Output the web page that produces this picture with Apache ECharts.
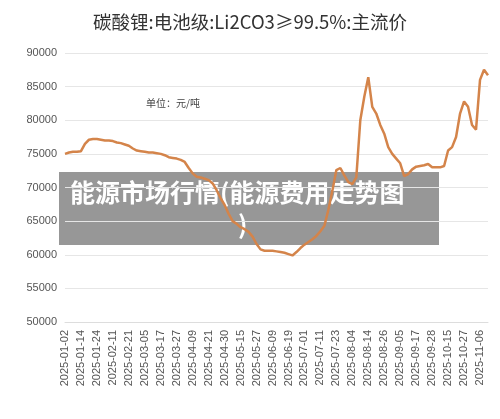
<!DOCTYPE html><html><head><meta charset="utf-8">
<script src="https://cdn.jsdelivr.net/npm/echarts@6/dist/echarts.min.js"></script>
<style>body{margin:0;background:#fff}#c{width:500px;height:419px}</style></head><body><div id="c"></div>
<script>
const tickLabels=["2025-01-02","2025-01-14","2025-01-24","2025-02-11","2025-02-21","2025-03-05","2025-03-17","2025-03-27","2025-04-09","2025-04-21","2025-04-30","2025-05-15","2025-05-27","2025-06-09","2025-06-19","2025-07-01","2025-07-11","2025-07-23","2025-08-04","2025-08-14","2025-08-26","2025-09-05","2025-09-17","2025-09-28","2025-10-15","2025-10-27","2025-11-06"];
const prices=[75000,75200,75300,75300,75400,76500,77100,77200,77200,77100,77000,77000,76900,76700,76600,76400,76200,75800,75500,75400,75300,75200,75200,75100,75000,74800,74500,74400,74300,74100,73800,72900,72100,71600,71500,71300,71100,70600,69600,68400,67400,66100,65000,64600,64100,63800,63400,62700,61600,60800,60600,60600,60600,60500,60400,60300,60100,59900,60400,61000,61500,61900,62300,62800,63500,64300,66700,69500,72600,72900,71800,70800,70500,71500,80000,83500,86400,82000,81000,79300,78000,76000,75000,74300,73600,71700,72000,72700,73100,73200,73300,73500,73000,73000,73000,73200,75500,76000,77500,81000,82800,82000,79300,78600,86000,87500,86700];
const cats=prices.map((_,i)=> i%4===0 && tickLabels[i/4] ? tickLabels[i/4] : "d"+i);
const chart=echarts.init(document.getElementById('c'));
chart.setOption({
 animation:false,
 title:{text:"碳酸锂:电池级:Li2CO3≥99.5%:主流价",left:'center',top:8,textStyle:{fontSize:18.5,fontWeight:'normal',color:'#333',fontFamily:'Noto Sans CJK SC'}},
 grid:{left:65,right:12,top:53,bottom:97},
 xAxis:{type:'category',data:cats,boundaryGap:false,axisTick:{show:false},
  axisLine:{lineStyle:{color:'#ddd'}},
  axisLabel:{rotate:90,interval:3,color:'#555',fontSize:11,formatter:v=>v.startsWith('d')?'':v}},
 yAxis:{type:'value',min:50000,max:90000,interval:5000,axisLabel:{color:'#555',fontSize:11,formatter:v=>String(v)},
  splitLine:{lineStyle:{color:'#e6e6e6'}}},
 series:[{type:'line',data:prices,symbol:'none',lineStyle:{color:'#d4844a',width:2.5},itemStyle:{color:'#d4844a'}}],
 graphic:[
  {type:'text',left:146,top:98,style:{text:'单位：元/吨',fontSize:10,fill:'#444',fontFamily:'Noto Sans CJK SC'}},
  {type:'rect',shape:{x:59,y:172,width:380,height:73},style:{fill:'rgba(95,95,95,0.65)'}},
  {type:'text',left:70,top:180,style:{text:'能源市场行情(能源费用走势图',fontSize:25,fontWeight:'bold',fill:'#fff',fontFamily:'Noto Sans CJK SC'}},
  {type:'text',left:238,top:212,style:{text:')',fontSize:25,fontWeight:'bold',fill:'#fff',fontFamily:'Noto Sans CJK SC'}}
 ]
});
</script></body></html>
